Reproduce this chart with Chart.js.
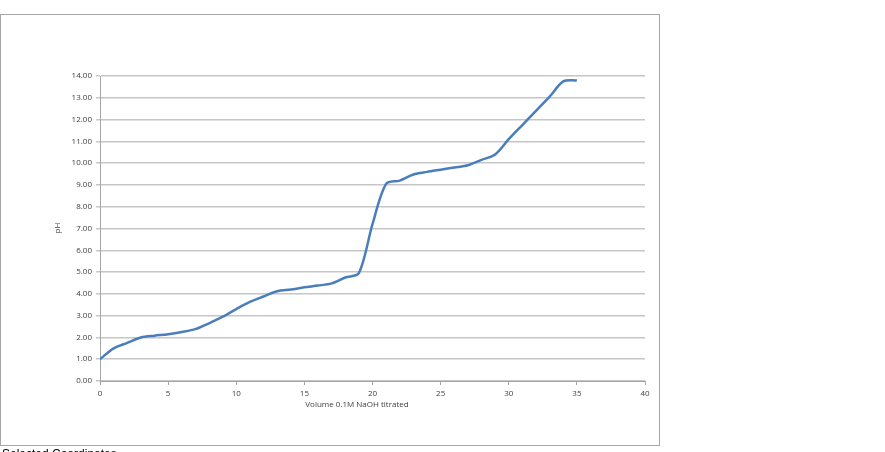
<!DOCTYPE html>
<html>
<head>
<meta charset="utf-8">
<script src="https://cdn.jsdelivr.net/npm/chart.js@4.4.1/dist/chart.umd.min.js"></script>
<style>
  html, body { margin: 0; padding: 0; background: #fff; }
  #wrap { position: absolute; left: 0; top: 0; width: 885px; height: 452px; }
</style>
</head>
<body>
<div id="wrap"><canvas id="chart" width="885" height="452"></canvas></div>
<script>
// titration curve
const volume = [0, 1, 2, 3, 4, 5, 6, 7, 8, 9, 10, 11, 12, 13, 14, 15, 16, 17, 18, 19, 20, 21, 22, 23, 24, 25, 26, 27, 28, 29, 30, 31, 32, 33, 34, 35];
const pH = [1.00, 1.50, 1.75, 2.00, 2.08, 2.15, 2.25, 2.38, 2.65, 2.95, 3.30, 3.63, 3.88, 4.12, 4.20, 4.30, 4.38, 4.48, 4.75, 4.95, 7.20, 9.05, 9.20, 9.48, 9.60, 9.70, 9.80, 9.90, 10.15, 10.40, 11.10, 11.75, 12.40, 13.05, 13.75, 13.80];
const xTitle = 'Volume 0.1M NaOH titrated';
const yTitle = 'pH';
const footText = 'Selected Coordinates';

const points = volume.map((v, i) => ({ x: v, y: pH[i] }));

const tickFont = { family: 'Open Sans', size: 8 };

// frame and axis titles like the spreadsheet export
const decorPlugin = {
  id: 'decor',
  beforeDraw(chart) {
    const ctx = chart.ctx;
    ctx.save();
    ctx.fillStyle = '#ffffff';
    ctx.fillRect(0, 0, chart.width, chart.height);
    ctx.strokeStyle = '#a6a6a6';
    ctx.lineWidth = 1;
    ctx.strokeRect(0.5, 14.5, 659, 431);
    ctx.restore();
  },
  afterDraw(chart) {
    const ctx = chart.ctx;
    ctx.save();
    ctx.fillStyle = '#404040';
    ctx.font = '8px "Open Sans"';
    ctx.textAlign = 'center';
    ctx.textBaseline = 'middle';
    ctx.fillText(xTitle, 357, 405);
    ctx.translate(58, 228);
    ctx.rotate(-Math.PI / 2);
    ctx.fillText(yTitle, 0, 0);
    ctx.restore();

    ctx.save();
    ctx.fillStyle = '#000000';
    ctx.font = '12px "Liberation Sans"';
    ctx.textAlign = 'left';
    ctx.textBaseline = 'top';
    ctx.fillText(footText, 2, 449);
    ctx.restore();
  }
};

new Chart(document.getElementById('chart').getContext('2d'), {
  type: 'scatter',
  data: {
    datasets: [{
      label: 'pH',
      data: points,
      showLine: true,
      borderColor: '#4a7ebb',
      borderWidth: 2.5,
      pointRadius: 0,
      tension: 0.3,
      fill: false,
    }],
  },
  options: {
    responsive: false,
    animation: false,
    layout: { padding: { left: 0, top: 76, right: 240, bottom: 0 } },
    plugins: {
      legend: { display: false },
      tooltip: { enabled: false },
    },
    scales: {
      x: {
        type: 'linear',
        min: 0,
        max: 40,
        ticks: { stepSize: 5, color: '#404040', font: tickFont, padding: 4, maxRotation: 0 },
        grid: { display: true, drawOnChartArea: false, drawTicks: true, tickLength: 4, color: '#a6a6a6' },
        border: { color: '#a6a6a6', width: 1 },
        afterFit(scale) { scale.height = 71; },
      },
      y: {
        min: 0,
        max: 14,
        ticks: {
          stepSize: 1,
          color: '#404040',
          font: tickFont,
          padding: 4,
          callback: (v) => Number(v).toFixed(2),
        },
        grid: { color: '#c6c6c6', lineWidth: 1.5, tickLength: 4 },
        border: { color: '#a6a6a6', width: 1 },
        afterFit(scale) { scale.width = 100; },
      },
    },
  },
  plugins: [decorPlugin],
});
</script>
</body>
</html>
